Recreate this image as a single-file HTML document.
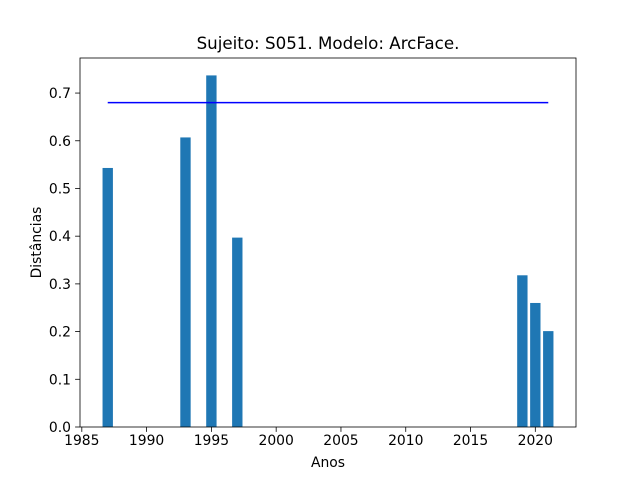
<!DOCTYPE html>
<html><head><meta charset="utf-8"><style>
body{margin:0;background:#fff;font-family:"DejaVu Sans","Liberation Sans",sans-serif;}
svg text{font-family:"DejaVu Sans","Liberation Sans",sans-serif;}
</style></head><body>
<svg id="chart" width="640" height="480" xmlns="http://www.w3.org/2000/svg"></svg>
<script>
const years = [1987, 1993, 1995, 1997, 2019, 2020, 2021];
const distances = [0.543, 0.607, 0.737, 0.397, 0.318, 0.260, 0.201];
const thresholdValue = 0.68;
const thresholdStart = 1987;
const thresholdEnd = 2021;
const xTicks = [1985, 1990, 1995, 2000, 2005, 2010, 2015, 2020];
const yTicks = [0.0, 0.1, 0.2, 0.3, 0.4, 0.5, 0.6, 0.7];

const L = 80, R = 576, T = 58, B = 427;
const xMin = 1984.86, xMax = 2023.14, yMax = 0.7735;
const sx = v => L + (v - xMin) / (xMax - xMin) * (R - L);
const sy = v => B - v / yMax * (B - T);
const svg = document.getElementById('chart');
const NS = 'http://www.w3.org/2000/svg';
function mk(tag, attrs, text) {
  const e = document.createElementNS(NS, tag);
  for (const k in attrs) e.setAttribute(k, attrs[k]);
  if (text !== undefined) e.textContent = text;
  svg.appendChild(e);
  return e;
}
years.forEach((y, i) => {
  const r = mk('rect', {x: sx(y - 0.4), y: sy(distances[i]), width: sx(y + 0.4) - sx(y - 0.4), height: B - sy(distances[i]), fill: '#1f77b4'});
  
  
});
const ln = mk('line', {x1: sx(thresholdStart), x2: sx(thresholdEnd), y1: sy(thresholdValue), y2: sy(thresholdValue), stroke: '#0000ff', 'stroke-width': 1.5});


const frame = mk('rect', {x: L, y: T, width: R - L, height: B - T, fill: 'none', stroke: '#000', 'stroke-width': 0.8});


xTicks.forEach(t => {
  const x = sx(t);
  mk('line', {x1: x, x2: x, y1: B, y2: B + 4.9, stroke: '#000', 'stroke-width': 0.8});
  const tx = mk('text', {x: x, y: B + 18, 'font-size': 13.9, 'text-anchor': 'middle'}, String(t));
  
  
});
yTicks.forEach(t => {
  const y = sy(t);
  mk('line', {x1: L - 4.9, x2: L, y1: y, y2: y, stroke: '#000', 'stroke-width': 0.8});
  const tx = mk('text', {x: L - 9, y: y + 5, 'font-size': 13.9, 'text-anchor': 'end'}, t.toFixed(1));
  
  
});
const xt = mk('text', {x: (L + R) / 2, y: 467, 'font-size': 13.9, 'text-anchor': 'middle'}, 'Anos');


const yt = mk('text', {x: 41, y: (T + B) / 2, 'font-size': 13.9, 'text-anchor': 'middle', transform: 'rotate(-90 41 ' + (T + B) / 2 + ')'}, 'Distâncias');


const ti = mk('text', {x: (L + R) / 2, y: 49, 'font-size': 16.7, 'text-anchor': 'middle'}, 'Sujeito: S051. Modelo: ArcFace.');


</script>
</body></html>
